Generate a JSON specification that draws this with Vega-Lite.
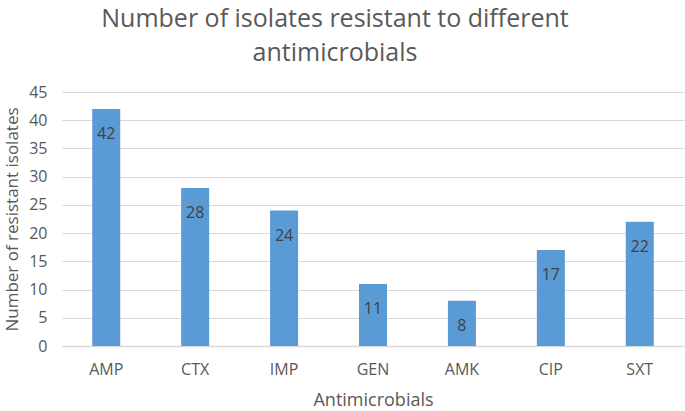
{
  "$schema": "https://vega.github.io/schema/vega-lite/v6.json",
  "width": 622,
  "height": 254,
  "autosize": {"type": "none"},
  "padding": {"left": 62, "top": 92, "right": 1, "bottom": 65},
  "background": "white",
  "title": {
    "text": ["Number of isolates resistant to different", "antimicrobials"],
    "fontSize": 25,
    "font": "Open Sans",
    "fontWeight": "normal",
    "color": "#595959",
    "anchor": "middle",
    "dx": -38,
    "offset": 18,
    "lineHeight": 34
  },
  "data": {
    "values": [
      {"drug": "AMP", "count": 42},
      {"drug": "CTX", "count": 28},
      {"drug": "IMP", "count": 24},
      {"drug": "GEN", "count": 11},
      {"drug": "AMK", "count": 8},
      {"drug": "CIP", "count": 17},
      {"drug": "SXT", "count": 22}
    ]
  },
  "config": {
    "view": {"stroke": null},
    "font": "Open Sans"
  },
  "encoding": {
    "x": {
      "field": "drug",
      "type": "nominal",
      "sort": null,
      "scale": {"paddingInner": 0.685, "paddingOuter": 0.34},
      "axis": {
        "title": "Antimicrobials",
        "labelAngle": 0,
        "labelFontSize": 16,
        "labelColor": "#595959",
        "labelPadding": 15,
        "titleFontSize": 18,
        "titleFontWeight": "normal",
        "titleColor": "#595959",
        "titlePadding": 14,
        "ticks": false,
        "domainColor": "#d9d9d9",
        "domainWidth": 1.5
      }
    },
    "y": {
      "field": "count",
      "type": "quantitative",
      "scale": {"domain": [0, 45]},
      "axis": {
        "title": "Number of resistant isolates",
        "values": [0, 5, 10, 15, 20, 25, 30, 35, 40, 45],
        "labelFontSize": 16,
        "labelColor": "#595959",
        "labelPadding": 15,
        "titleFontSize": 17,
        "titleFontWeight": "normal",
        "titleColor": "#595959",
        "titleX": -50,
        "titleY": 127,
        "titleAngle": -90,
        "titleAlign": "center",
        "titleBaseline": "middle",
        "ticks": false,
        "domain": false,
        "gridColor": "#d9d9d9",
        "gridWidth": 1.2
      }
    }
  },
  "layer": [
    {"mark": {"type": "bar", "color": "#5b9bd5"}},
    {
      "mark": {"type": "text", "baseline": "middle", "dy": 25, "fontSize": 16, "color": "#404040"},
      "encoding": {"text": {"field": "count", "type": "quantitative"}}
    }
  ]
}
